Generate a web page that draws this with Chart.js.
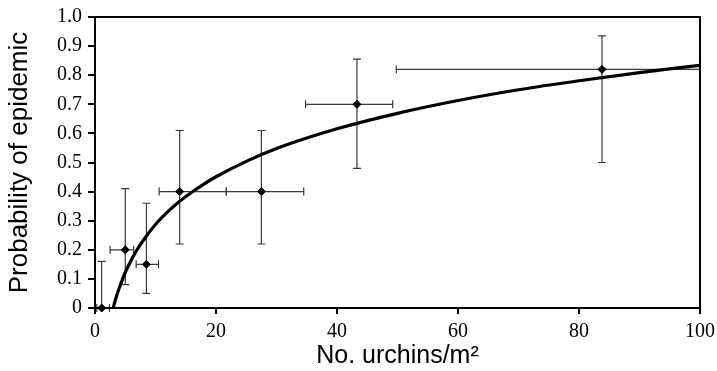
<!DOCTYPE html>
<html>
<head>
<meta charset="utf-8">
<script src="https://cdn.jsdelivr.net/npm/chart.js@4/dist/chart.umd.min.js"></script>
<style>
  html, body { margin: 0; padding: 0; background: #fff; }
  #wrap { width: 717px; height: 371px; }
</style>
</head>
<body>
<div id="wrap"><canvas id="c" width="717" height="371"></canvas></div>
<script>
// Observed points (x = urchins/m2, y = probability of epidemic)
const pointX   = [1.1, 5.0, 8.5, 14.0, 27.5, 43.3, 83.8];
const pointY   = [0, 0.20, 0.15, 0.40, 0.40, 0.70, 0.82];
const yErrLow  = [0, 0.08, 0.05, 0.22, 0.22, 0.48, 0.50];
const yErrHigh = [0.16, 0.41, 0.36, 0.61, 0.61, 0.855, 0.935];
const xErrLow  = [0.3, 2.5, 6.8, 10.6, 21.7, 34.8, 49.8];
const xErrHigh = [2.4, 6.4, 10.5, 21.7, 34.5, 49.2, 100];

// Fitted curve
const curveX = [3, 3.5, 4, 5, 6, 7, 8, 10, 12, 14, 16, 18, 20, 25, 30, 35, 40, 50, 60, 70, 80, 90, 100];
const curveY = [0, 0.037, 0.068, 0.122, 0.165, 0.202, 0.233, 0.287, 0.330, 0.367, 0.398, 0.426, 0.451, 0.504, 0.548, 0.584, 0.616, 0.669, 0.713, 0.750, 0.781, 0.809, 0.834];

// Axis ticks
const xTicks = [0, 20, 40, 60, 80, 100];
const yTicks = [0, 0.1, 0.2, 0.3, 0.4, 0.5, 0.6, 0.7, 0.8, 0.9, 1.0];

const errorBars = {
  id: 'errorBars',
  beforeDatasetsDraw(chart) {
    const ctx = chart.ctx, xs = chart.scales.x, ys = chart.scales.y;
    const cap = 4;
    ctx.save();
    ctx.strokeStyle = '#3a3a3a';
    ctx.lineWidth = 1.2;
    for (let i = 0; i < pointX.length; i++) {
      const px = xs.getPixelForValue(pointX[i]);
      const py = ys.getPixelForValue(pointY[i]);
      const y1 = ys.getPixelForValue(yErrLow[i]);
      const y2 = ys.getPixelForValue(yErrHigh[i]);
      const x1 = xs.getPixelForValue(xErrLow[i]);
      const x2 = xs.getPixelForValue(xErrHigh[i]);
      ctx.beginPath();
      ctx.moveTo(px, y1); ctx.lineTo(px, y2);
      ctx.moveTo(px - cap, y1); ctx.lineTo(px + cap, y1);
      ctx.moveTo(px - cap, y2); ctx.lineTo(px + cap, y2);
      ctx.moveTo(x1, py); ctx.lineTo(x2, py);
      ctx.moveTo(x1, py - cap); ctx.lineTo(x1, py + cap);
      ctx.moveTo(x2, py - cap); ctx.lineTo(x2, py + cap);
      ctx.stroke();
    }
    ctx.restore();
  }
};

const frame = {
  id: 'frame',
  afterDraw(chart) {
    const a = chart.chartArea, ctx = chart.ctx;
    ctx.save();
    ctx.strokeStyle = '#000';
    ctx.lineWidth = 2;
    ctx.strokeRect(a.left, a.top, a.right - a.left, a.bottom - a.top);
    ctx.restore();
  }
};

new Chart(document.getElementById('c'), {
  type: 'scatter',
  data: {
    datasets: [
      {
        type: 'line',
        data: curveX.map((x, i) => ({ x, y: curveY[i] })),
        borderColor: '#000',
        borderWidth: 3.2,
        pointRadius: 0,
        fill: false,
        cubicInterpolationMode: 'monotone',
        order: 2
      },
      {
        data: pointX.map((x, i) => ({ x, y: pointY[i] })),
        backgroundColor: '#000',
        borderColor: '#000',
        pointStyle: 'rectRot',
        pointRadius: 4,
        clip: false,
        order: 1
      }
    ]
  },
  options: {
    responsive: false,
    animation: false,
    events: [],
    layout: { padding: { top: 17, right: 17, left: 0, bottom: 0 } },
    plugins: { legend: { display: false }, tooltip: { enabled: false } },
    scales: {
      x: {
        type: 'linear', min: 0, max: 100,
        afterBuildTicks(s) { s.ticks = xTicks.map(v => ({ value: v })); },
        afterFit(s) { s.height = 63; s.paddingRight = 0; s.paddingLeft = 0; },
        grid: { display: true, drawOnChartArea: false, drawTicks: true, tickLength: 6, color: '#000', lineWidth: 2 },
        border: { display: false },
        ticks: { color: '#000', padding: 6, font: { family: 'Liberation Serif', size: 20 } },
        title: { display: true, text: 'No. urchins/m²', color: '#000', padding: { top: 0, bottom: 0 },
                 font: { family: 'Liberation Sans', size: 25 } }
      },
      y: {
        type: 'linear', min: 0, max: 1,
        afterBuildTicks(s) { s.ticks = yTicks.map(v => ({ value: v })); },
        afterFit(s) { s.width = 95; s.paddingTop = 0; s.paddingBottom = 0; },
        grid: { display: true, drawOnChartArea: false, drawTicks: true, tickLength: 7, color: '#000', lineWidth: 2 },
        border: { display: false },
        ticks: { color: '#000', padding: 6, font: { family: 'Liberation Serif', size: 20 },
                 callback: v => v === 0 ? '0' : v.toFixed(1) },
        title: { display: true, text: 'Probability of epidemic', color: '#000', padding: { top: 4, bottom: 0 },
                 font: { family: 'Liberation Sans', size: 26 } }
      }
    }
  },
  plugins: [errorBars, frame]
});
</script>
</body>
</html>
